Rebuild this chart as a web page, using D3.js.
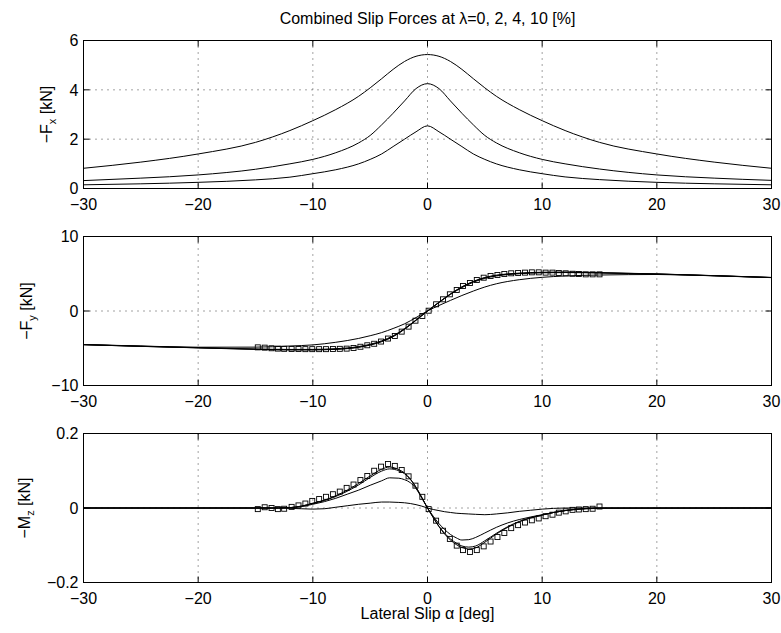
<!DOCTYPE html>
<html>
<head>
<meta charset="utf-8">
<script src="https://cdn.jsdelivr.net/npm/d3@7"></script>
<style>
  body { margin: 0; background: #fff; }
  text { font-family: "Liberation Sans", Arial, Helvetica, sans-serif; fill: #000; }
</style>
</head>
<body>
<div id="chart"></div>
<script>
// ---- data ----
const chartTitle = "Combined Slip Forces at \u03bb=0, 2, 4, 10 [%]";
const xLabel = "Lateral Slip \u03b1 [deg]";
const xTicks = [-30, -20, -10, 0, 10, 20, 30];

// longitudinal force -Fx [kN], one curve per slip ratio
const fxAlpha = [-30,-25,-20,-15,-12,-10,-8,-6,-5,-4,-3,-2,-1,0,1,2,3,4,5,6,8,10,12,15,20,25,30];
const fxLam0  = [0,0,0,0,0,0,0,0,0,0,0,0,0,0,0,0,0,0,0,0,0,0,0,0,0,0,0];
const fxLam2  = [0.15,0.19,0.25,0.35,0.46,0.6,0.76,1.0,1.18,1.4,1.7,2.0,2.3,2.54,2.3,2.0,1.7,1.4,1.18,1.0,0.76,0.6,0.47,0.36,0.25,0.19,0.15];
const fxLam4  = [0.32,0.42,0.55,0.78,1.0,1.18,1.45,1.85,2.15,2.58,3.05,3.55,4.05,4.25,4.05,3.55,3.05,2.58,2.15,1.85,1.45,1.18,1.0,0.79,0.55,0.42,0.33];
const fxLam10 = [0.82,1.07,1.4,1.87,2.35,2.75,3.2,3.74,4.08,4.45,4.83,5.15,5.36,5.43,5.36,5.15,4.83,4.45,4.08,3.74,3.2,2.75,2.35,1.87,1.4,1.07,0.82];

// lateral force -Fy [kN]
const fyAlpha = [-30,-25,-20,-15,-12,-10,-8,-6,-5,-4,-3,-2,-1,0,1,2,3,4,5,6,8,10,12,15,20,25,30];
const fyLam0  = [-4.52,-4.75,-4.95,-5.15,-5.22,-5.22,-5.15,-4.87,-4.57,-4.12,-3.45,-2.45,-1.25,0,1.18,2.3,3.25,3.98,4.5,4.8,5.08,5.2,5.22,5.15,4.98,4.75,4.5];
const fyLam2  = [-4.52,-4.74,-4.94,-5.13,-5.2,-5.2,-5.12,-4.84,-4.54,-4.08,-3.41,-2.42,-1.23,0,1.16,2.27,3.21,3.94,4.46,4.77,5.05,5.17,5.2,5.13,4.97,4.74,4.5];
const fyLam4  = [-4.51,-4.72,-4.92,-5.1,-5.16,-5.15,-5.06,-4.77,-4.47,-4.0,-3.33,-2.36,-1.2,0,1.13,2.22,3.14,3.86,4.38,4.7,5.0,5.13,5.16,5.1,4.95,4.73,4.49];
const fyLam10 = [-4.5,-4.7,-4.86,-4.85,-4.7,-4.55,-4.2,-3.68,-3.32,-2.9,-2.35,-1.72,-0.88,0,0.74,1.42,2.08,2.68,3.22,3.65,4.2,4.52,4.7,4.83,4.9,4.72,4.48];

// aligning moment -Mz [kN]
const mzAlpha  = [-30,-15,-13,-12,-11,-10,-9,-8,-7,-6,-5,-4,-3.3,-2.5,-2,-1.5,-1,-0.5,0,0.5,1,1.5,2,2.5,3,3.6,4.2,5,6,7,8,9,10,11,12,13,14,15,30];
const mzLam0  = [0,0,0,0.001,0.005,0.013,0.021,0.033,0.048,0.066,0.086,0.104,0.110,0.103,0.094,0.078,0.056,0.029,0,-0.026,-0.050,-0.070,-0.086,-0.098,-0.106,-0.110,-0.107,-0.092,-0.070,-0.052,-0.037,-0.027,-0.019,-0.012,-0.007,-0.003,-0.001,0,0];
const mzLam2  = [0,0,0,0.001,0.005,0.012,0.020,0.031,0.045,0.062,0.082,0.099,0.105,0.100,0.092,0.077,0.055,0.028,0,-0.025,-0.049,-0.068,-0.083,-0.094,-0.102,-0.105,-0.102,-0.088,-0.068,-0.050,-0.036,-0.026,-0.019,-0.012,-0.007,-0.003,-0.001,0,0];
const mzLam4  = [0,0,0,0.001,0.004,0.010,0.017,0.026,0.037,0.048,0.061,0.073,0.081,0.080,0.076,0.068,0.052,0.027,0,-0.022,-0.042,-0.058,-0.071,-0.080,-0.086,-0.085,-0.079,-0.067,-0.052,-0.040,-0.031,-0.024,-0.018,-0.012,-0.007,-0.004,-0.002,-0.001,0];
const mzLam10 = [0,0,0,-0.001,-0.002,-0.003,-0.002,0.002,0.006,0.010,0.013,0.016,0.016,0.015,0.014,0.012,0.009,0.005,0,-0.004,-0.007,-0.010,-0.012,-0.014,-0.015,-0.016,-0.017,-0.018,-0.016,-0.013,-0.009,-0.006,-0.003,-0.001,0,0,0,0,0];

// measured points (squares), lambda = 0
const measAlpha = [-14.8,-14.2,-13.6,-13.05,-12.5,-11.85,-11.25,-10.65,-10.05,-9.45,-8.85,-8.25,-7.65,-7.05,-6.45,-5.85,-5.25,-4.65,-4.05,-3.45,-2.85,-2.25,-1.65,-1.05,-0.45,0.1,0.75,1.35,1.95,2.55,3.1,3.7,4.3,4.9,5.5,6.1,6.7,7.3,7.9,8.5,9.1,9.7,10.3,10.9,11.45,12.05,12.65,13.2,13.8,14.4,15.0];
const fyMeas = [-4.88,-4.92,-5.0,-5.05,-5.08,-5.1,-5.1,-5.12,-5.12,-5.12,-5.12,-5.1,-5.08,-5.05,-4.97,-4.8,-4.6,-4.4,-4.1,-3.7,-3.36,-2.77,-2.1,-1.3,-0.67,0.04,0.9,1.57,2.24,2.82,3.36,3.76,4.16,4.47,4.7,4.83,4.97,5.06,5.1,5.15,5.19,5.19,5.15,5.15,5.1,5.06,5.0,4.97,4.92,4.92,4.92];
const mzMeas = [-0.003,0.002,0,-0.003,-0.002,0.003,0.007,0.012,0.019,0.024,0.030,0.037,0.044,0.054,0.063,0.075,0.086,0.100,0.111,0.118,0.113,0.102,0.085,0.060,0.030,-0.003,-0.034,-0.061,-0.083,-0.101,-0.113,-0.118,-0.113,-0.103,-0.090,-0.078,-0.067,-0.054,-0.046,-0.039,-0.033,-0.028,-0.022,-0.018,-0.0125,-0.009,-0.005,-0.004,-0.003,-0.002,0.004];

// ---- layout ----
const W = 781, H = 633;
const left = 83.5, right = 771.5;

const panels = [
  { top: 40.5,  bottom: 188.5, domain: [0, 6],      ticks: [0, 2, 4, 6],
    name: "F", sub: "x", labelX: 52, alpha: fxAlpha, lines: [fxLam0, fxLam2, fxLam4, fxLam10], meas: null },
  { top: 236.5, bottom: 385.5, domain: [-10, 10],   ticks: [-10, 0, 10],
    name: "F", sub: "y", labelX: 32, alpha: fyAlpha, lines: [fyLam0, fyLam2, fyLam4, fyLam10], meas: fyMeas },
  { top: 433.5, bottom: 582.5, domain: [-0.2, 0.2], ticks: [-0.2, 0, 0.2],
    name: "M", sub: "z", labelX: 30, alpha: mzAlpha, lines: [mzLam0, mzLam2, mzLam4, mzLam10], meas: mzMeas }
];

const fmt = d => (d < 0 ? "\u2212" : "") + Math.abs(d);
const tickLen = 6;

const svg = d3.select("#chart").append("svg")
    .attr("width", W)
    .attr("height", H)
    .style("background", "#fff");

const x = d3.scaleLinear().domain([-30, 30]).range([left, right]);

svg.append("text")
    .attr("x", (left + right) / 2)
    .attr("y", 24)
    .attr("text-anchor", "middle")
    .attr("font-size", 16)
    .text(chartTitle);

panels.forEach((p, pi) => {
  const y = d3.scaleLinear().domain(p.domain).range([p.bottom, p.top]);
  const g = svg.append("g");
  const clipId = "clip" + pi;
  svg.append("clipPath").attr("id", clipId)
    .append("rect")
      .attr("x", left).attr("y", p.top)
      .attr("width", right - left).attr("height", p.bottom - p.top);

  // dotted grid
  g.selectAll(".vg").data(xTicks.slice(1, -1)).enter().append("line")
      .attr("x1", d => x(d)).attr("x2", d => x(d))
      .attr("y1", p.top).attr("y2", p.bottom)
      .attr("stroke", "#333").attr("stroke-width", 0.9)
      .attr("stroke-dasharray", "1,5");
  g.selectAll(".hg").data(p.ticks.filter(t => t !== p.domain[0] && t !== p.domain[1])).enter().append("line")
      .attr("x1", left).attr("x2", right)
      .attr("y1", d => y(d)).attr("y2", d => y(d))
      .attr("stroke", "#333").attr("stroke-width", 0.9)
      .attr("stroke-dasharray", "1,5");

  // model curves
  const line = d3.line()
      .x((d, i) => x(p.alpha[i]))
      .y(d => y(d))
      .curve(d3.curveMonotoneX);
  g.selectAll(".curve").data(p.lines).enter().append("path")
      .attr("d", line)
      .attr("fill", "none")
      .attr("stroke", "#000")
      .attr("stroke-width", 1)
      .attr("clip-path", `url(#${clipId})`);

  // measured squares
  if (p.meas) {
    g.selectAll(".sq").data(p.meas).enter().append("rect")
        .attr("x", (d, i) => x(measAlpha[i]) - 2.5)
        .attr("y", d => y(d) - 2.5)
        .attr("width", 5).attr("height", 5)
        .attr("fill", "none")
        .attr("stroke", "#000")
        .attr("stroke-width", 0.9);
  }

  // box
  g.append("rect")
      .attr("x", left).attr("y", p.top)
      .attr("width", right - left).attr("height", p.bottom - p.top)
      .attr("fill", "none").attr("stroke", "#000").attr("stroke-width", 1);

  // ticks pointing in, on all sides
  xTicks.forEach(t => {
    g.append("line").attr("x1", x(t)).attr("x2", x(t)).attr("y1", p.bottom).attr("y2", p.bottom - tickLen).attr("stroke", "#000");
    g.append("line").attr("x1", x(t)).attr("x2", x(t)).attr("y1", p.top).attr("y2", p.top + tickLen).attr("stroke", "#000");
  });
  p.ticks.forEach(t => {
    g.append("line").attr("x1", left).attr("x2", left + tickLen).attr("y1", y(t)).attr("y2", y(t)).attr("stroke", "#000");
    g.append("line").attr("x1", right).attr("x2", right - tickLen).attr("y1", y(t)).attr("y2", y(t)).attr("stroke", "#000");
  });

  // tick labels
  g.selectAll(".xl").data(xTicks).enter().append("text")
      .attr("x", d => x(d))
      .attr("y", p.bottom + 21)
      .attr("text-anchor", "middle")
      .attr("font-size", 16)
      .text(fmt);
  g.selectAll(".yl").data(p.ticks).enter().append("text")
      .attr("x", left - 5)
      .attr("y", d => y(d))
      .attr("dy", "0.36em")
      .attr("text-anchor", "end")
      .attr("font-size", 16)
      .text(fmt);

  // y axis label with subscript
  const yl = g.append("text")
      .attr("transform", `translate(${p.labelX},${(p.top + p.bottom) / 2}) rotate(-90)`)
      .attr("text-anchor", "middle")
      .attr("font-size", 16);
  yl.append("tspan").text("\u2212" + p.name);
  yl.append("tspan").attr("font-size", 11).attr("dy", 4).text(p.sub);
  yl.append("tspan").attr("dy", -4).text(" [kN]");
});

svg.append("text")
    .attr("x", (left + right) / 2)
    .attr("y", 619)
    .attr("text-anchor", "middle")
    .attr("font-size", 16)
    .text(xLabel);
</script>
</body>
</html>
